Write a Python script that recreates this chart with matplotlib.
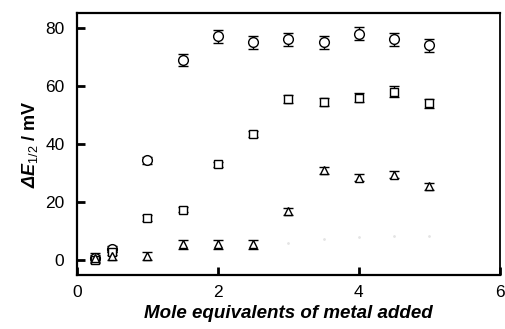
import numpy as np
import matplotlib
matplotlib.use('Agg')
import matplotlib.pyplot as plt

plt.rcParams['font.family'] = ['Liberation Sans', 'DejaVu Sans']
plt.rcParams['mathtext.fontset'] = 'custom'
plt.rcParams['mathtext.rm'] = 'Liberation Sans:italic:bold'
plt.rcParams['mathtext.it'] = 'Liberation Sans:italic:bold'
plt.rcParams['mathtext.bf'] = 'Liberation Sans:bold'
plt.rcParams['mathtext.sf'] = 'Liberation Sans'

x = [0.25, 0.5, 1.0, 1.5, 2.0, 2.5, 3.0, 3.5, 4.0, 4.5, 5.0]
circle_y = [1.0, 4.0, 34.5, 69.0, 77.0, 75.0, 76.0, 75.0, 78.0, 76.0, 74.0]
circle_err = [1.0, 1.0, 1.2, 2.0, 2.2, 2.2, 2.2, 2.2, 2.2, 2.2, 2.2]
square_y = [0.0, 3.0, 14.5, 17.5, 33.0, 43.5, 55.5, 54.5, 56.0, 58.0, 54.0]
square_err = [1.0, 1.0, 1.0, 1.0, 1.0, 1.0, 1.5, 1.5, 1.5, 1.8, 1.5]
tri_y = [1.0, 1.5, 1.5, 5.5, 5.5, 5.5, 17.0, 31.0, 28.5, 29.5, 25.5]
tri_err = [1.5, 1.5, 1.5, 1.5, 1.5, 1.5, 1.2, 1.2, 1.2, 1.2, 1.2]
faint_x = [3.0, 3.5, 4.0, 4.5, 5.0]
faint_y = [6.0, 7.5, 8.0, 8.5, 8.5]

fig = plt.figure(figsize=(5.06, 3.29), dpi=100)
ax = fig.add_axes([0.152, 0.164, 0.836, 0.796])

kw = dict(ls='none', color='black', mfc='white', mec='black', mew=1.0,
          ecolor='black', elinewidth=1.0, capsize=3.5, capthick=1.0)
ax.errorbar(x, circle_y, yerr=circle_err, marker='o', ms=7, **kw)
ax.errorbar(x, square_y, yerr=square_err, marker='s', ms=5.5, **kw)
ax.errorbar(x, tri_y, yerr=tri_err, marker='^', ms=6, **kw)
ax.plot(faint_x, faint_y, ls='none', marker='.', ms=2, color='#e4e4e4')

ax.set_xlim(0, 6)
ax.set_ylim(-5, 85)
ax.set_xticks([0, 2, 4, 6])
ax.set_yticks([0, 20, 40, 60, 80])
ax.tick_params(direction='in', length=6, width=2, labelsize=12.5)
ax.tick_params(axis='y', pad=9)
ax.tick_params(axis='x', pad=7)
for s in ax.spines.values():
    s.set_linewidth(1.6)
ax.spines['right'].set_linewidth(1.3)

ax.set_xlabel('Mole equivalents of metal added', fontsize=13.5,
              fontweight='bold', fontstyle='italic', labelpad=4)
ax.set_ylabel('$\u0394E_{\\mathsf{1/2}}$ / mV',
              fontsize=13, fontweight='bold', labelpad=4)

plt.savefig('out.png', dpi=100)
